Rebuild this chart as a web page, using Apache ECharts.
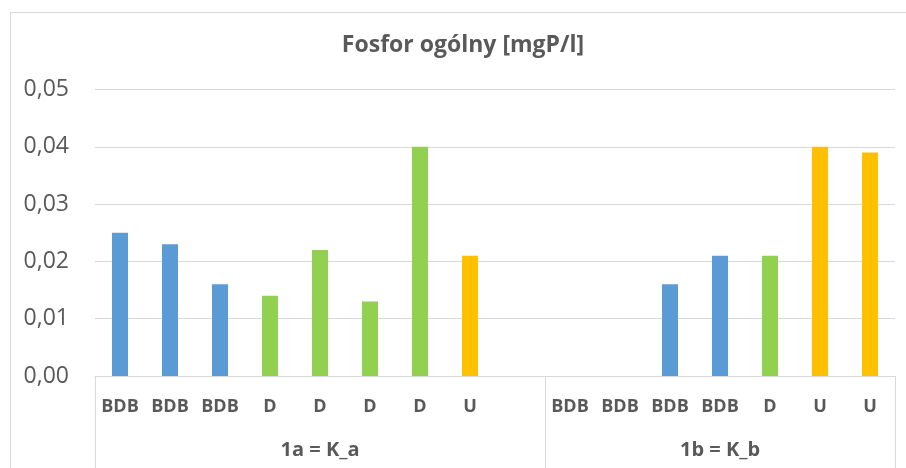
<!DOCTYPE html>
<html>
<head>
<meta charset="utf-8">
<script src="https://cdn.jsdelivr.net/npm/echarts@6/dist/echarts.min.js"></script>
<style>
  html, body { margin: 0; padding: 0; background: #ffffff; }
  #wrap { position: relative; width: 906px; height: 468px; overflow: hidden; background: #ffffff; }
  #frame { position: absolute; left: 10px; top: 12px; width: 920px; height: 480px; border: 1px solid #d9d9d9; box-sizing: border-box; }
  #chart { position: absolute; left: 0; top: 0; width: 906px; height: 468px; }
</style>
</head>
<body>
<div id="wrap">
  <div id="frame"></div>
  <div id="chart"></div>
</div>
<script>
// Sample labels (inner axis level) and measured total phosphorus
const categories = ['BDB', 'BDB', 'BDB', 'D', 'D', 'D', 'D', 'U', '',
                    'BDB', 'BDB', 'BDB', 'BDB', 'D', 'U', 'U'];
const values = [0.025, 0.023, 0.016, 0.014, 0.022, 0.013, 0.040, 0.021, null,
                null, null, 0.016, 0.021, 0.021, 0.040, 0.039];
// Outer axis level: group names and how many categories each spans
const groups = ['1a = K_a', '1b = K_b'];
const groupSizes = [9, 7];
const yTicks = [0, 0.01, 0.02, 0.03, 0.04, 0.05];

const colorByType = { BDB: '#5b9bd5', D: '#92d050', U: '#ffc000' };
const FONT = '"Open Sans", "Noto Sans", sans-serif';
const TEXT = '#595959';
const LINE = '#d9d9d9';

// group boundaries and centres along the category band (0..N)
const bounds = [0];
groupSizes.forEach(n => bounds.push(bounds[bounds.length - 1] + n));
const centres = groups.map((g, i) => (bounds[i] + bounds[i + 1]) / 2);

const chart = echarts.init(document.getElementById('chart'), null, { renderer: 'canvas' });
chart.setOption({
  animation: false,
  backgroundColor: 'transparent',
  title: {
    text: 'Fosfor ogólny [mgP/l]',
    left: 463,
    textAlign: 'center',
    top: 34,
    padding: 0,
    textStyle: { fontFamily: FONT, fontSize: 23, fontWeight: 'bold', color: TEXT }
  },
  grid: { left: 95, right: 11, top: 89.5, bottom: 92, containLabel: false },
  xAxis: [
    {
      type: 'category',
      data: categories,
      position: 'bottom',
      axisLine: { show: true, lineStyle: { color: LINE, width: 1 } },
      axisTick: { show: false },
      axisLabel: {
        interval: 0, margin: 22,
        fontFamily: FONT, fontSize: 18, fontWeight: 'bold', color: TEXT
      },
      splitLine: { show: false }
    },
    {
      type: 'value',
      min: 0,
      max: categories.length,
      position: 'bottom',
      axisLine: { show: false },
      splitLine: { show: false },
      axisTick: {
        show: true, customValues: bounds, length: 100, inside: false,
        lineStyle: { color: LINE, width: 1 }
      },
      axisLabel: {
        show: true, customValues: centres, margin: 64,
        formatter: v => groups[centres.indexOf(v)] || '',
        fontFamily: FONT, fontSize: 20, fontWeight: 'bold', color: TEXT
      }
    }
  ],
  yAxis: {
    type: 'value',
    min: 0,
    max: yTicks[yTicks.length - 1],
    interval: 0.01,
    axisLine: { show: false },
    axisTick: { show: false },
    splitLine: { show: true, lineStyle: { color: LINE, width: 1 } },
    axisLabel: {
      margin: 26,
      formatter: v => v.toFixed(2).replace('.', ','),
      fontFamily: FONT, fontSize: 23, color: TEXT
    }
  },
  series: [{
    type: 'bar',
    xAxisIndex: 0,
    barWidth: 16,
    data: values.map((v, i) => ({
      value: v,
      itemStyle: { color: colorByType[categories[i]] || '#5b9bd5' }
    }))
  }]
});
</script>
</body>
</html>
